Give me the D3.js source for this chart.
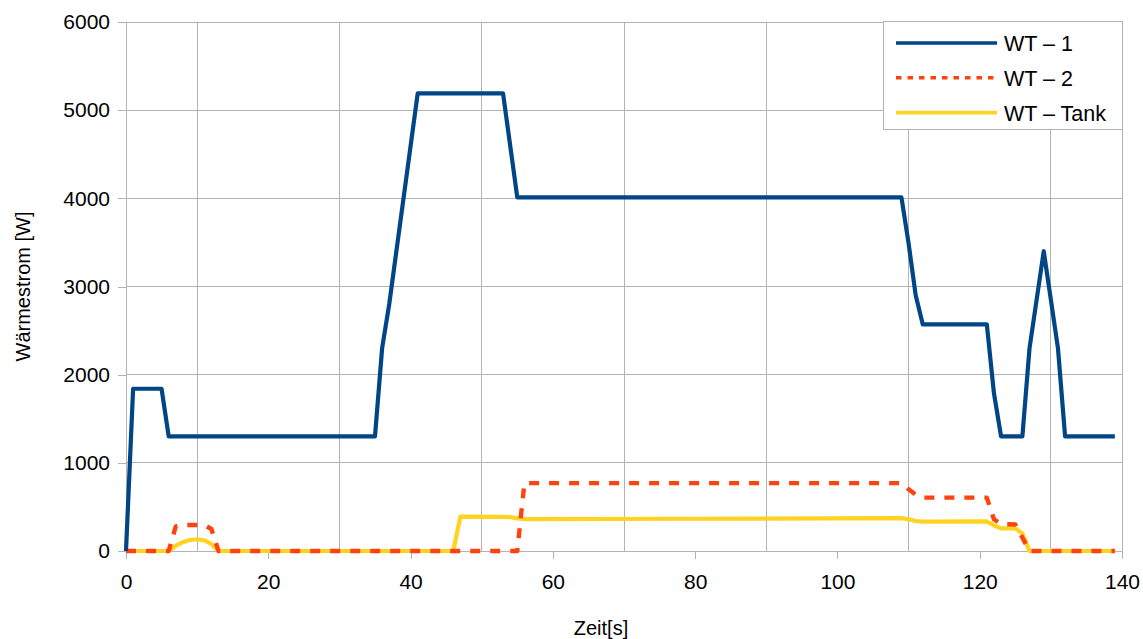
<!DOCTYPE html>
<html>
<head>
<meta charset="utf-8">
<script src="https://cdn.jsdelivr.net/npm/d3@7/dist/d3.min.js"></script>
<style>
  html, body { margin: 0; padding: 0; background: #ffffff; }
  svg { display: block; font-family: "Liberation Sans", Arial, sans-serif; }
</style>
</head>
<body>
<svg id="chart" width="1143" height="639"></svg>
<script>
// Heat flow of the three heat exchangers over time
const wt1Time   = [0, 1, 5, 6, 35, 36, 37, 41, 53, 55, 109, 110, 111, 112, 121, 122, 123, 126, 127, 129, 131, 132, 139];
const wt1Values = [0, 1840, 1840, 1300, 1300, 2300, 2800, 5190, 5190, 4010, 4010, 3490, 2900, 2570, 2570, 1790, 1300, 1300, 2300, 3400, 2300, 1300, 1300];

const wt2Time   = [0, 6, 7, 8, 11, 12, 13, 55, 56, 109, 110, 111, 112, 121, 122, 123, 125, 126, 127, 139];
const wt2Values = [0, 0, 280, 295, 295, 250, 0, 0, 770, 770, 700, 640, 605, 605, 360, 305, 300, 150, 0, 0];

const tankTime   = [0, 6, 7, 8, 9, 10, 11, 12, 13, 46, 47, 53, 54, 55, 56, 80, 109, 110, 111, 112, 121, 122, 123, 125, 126, 127, 139];
const tankValues = [0, 0, 60, 100, 125, 133, 120, 80, 0, 0, 390, 388, 385, 370, 362, 366, 372, 360, 340, 333, 335, 290, 257, 257, 200, 0, 0];

const seriesNames = ["WT – 1", "WT – 2", "WT – Tank"];
const xTickValues = [0, 20, 40, 60, 80, 100, 120, 140];
const xGridValues = [10, 30, 50, 70, 90, 110, 130, 140];
const yTickValues = [0, 1000, 2000, 3000, 4000, 5000, 6000];
const xTitle = "Zeit[s]";
const yTitle = "Wärmestrom [W]";

const svg = d3.select("#chart");
const margin = { left: 126, right: 21, top: 22, bottom: 88 };
const W = 1143, H = 639;
const gridColor = "#b3b3b3";

const x = d3.scaleLinear().domain([0, 140]).range([margin.left, W - margin.right]);
const y = d3.scaleLinear().domain([0, 6000]).range([H - margin.bottom, margin.top]);

// Grid
const grid = svg.append("g");
grid.selectAll("line.h").data(yTickValues.filter(v => v > 0)).join("line")
  .attr("x1", x(0)).attr("x2", x(140))
  .attr("y1", d => y(d)).attr("y2", d => y(d))
  .attr("stroke", gridColor).attr("stroke-width", 1).attr("shape-rendering", "crispEdges");
grid.selectAll("line.v").data(xGridValues).join("line")
  .attr("x1", d => x(d)).attr("x2", d => x(d))
  .attr("y1", y(6000)).attr("y2", y(0))
  .attr("stroke", gridColor).attr("stroke-width", 1).attr("shape-rendering", "crispEdges");

// Axes
const xAxis = d3.axisBottom(x).tickValues(xTickValues).tickSize(8).tickPadding(15).tickFormat(d3.format("d"));
const yAxis = d3.axisLeft(y).tickValues(yTickValues).tickSize(8).tickPadding(8).tickFormat(d3.format("d"));

const gx = svg.append("g").attr("transform", `translate(0,${y(0)})`).call(xAxis);
const gy = svg.append("g").attr("transform", `translate(${x(0)},0)`).call(yAxis);
[gx, gy].forEach(g => {
  g.select(".domain").attr("stroke", gridColor).attr("shape-rendering", "crispEdges");
  g.selectAll(".tick line").attr("stroke", gridColor).attr("shape-rendering", "crispEdges");
  g.selectAll(".tick text").attr("fill", "#000").style("font-size", "21px")
    .style("font-family", "'Liberation Sans', Arial, sans-serif");
});

// Axis titles
svg.append("text")
  .attr("x", 601).attr("y", 635)
  .attr("text-anchor", "middle").style("font-size", "20px").text(xTitle);
svg.append("text")
  .attr("transform", `translate(30,${(y(0) + y(6000)) / 2}) rotate(-90)`)
  .attr("text-anchor", "middle").style("font-size", "20px").text(yTitle);

// Series
const line = d3.line().x(d => x(d[0])).y(d => y(d[1]));
const zip = (t, v) => t.map((d, i) => [d, v[i]]);

const series = [
  { name: seriesNames[2], data: zip(tankTime, tankValues), color: "#ffd320", width: 4.2, dash: null },
  { name: seriesNames[1], data: zip(wt2Time, wt2Values), color: "#ff420e", width: 4.4, dash: "10,10" },
  { name: seriesNames[0], data: zip(wt1Time, wt1Values), color: "#004586", width: 4.2, dash: null }
];

svg.append("g").selectAll("path").data(series).join("path")
  .attr("d", d => line(d.data))
  .attr("fill", "none")
  .attr("stroke", d => d.color)
  .attr("stroke-width", d => d.width)
  .attr("stroke-linejoin", "round")
  .attr("stroke-dasharray", d => d.dash);

// Legend
const legend = svg.append("g");
legend.append("rect")
  .attr("x", 883).attr("y", 21.5).attr("width", x(140) - 883).attr("height", 108)
  .attr("fill", "#fff").attr("stroke", gridColor).attr("shape-rendering", "crispEdges");
const legendItems = [
  { name: seriesNames[0], color: "#004586", dash: null },
  { name: seriesNames[1], color: "#ff420e", dash: "5.5,6" },
  { name: seriesNames[2], color: "#ffd320", dash: null }
];
const li = legend.selectAll("g").data(legendItems).join("g")
  .attr("transform", (d, i) => `translate(0,${43 + i * 34.8})`);
li.append("line")
  .attr("x1", 896).attr("x2", 997).attr("y1", 0).attr("y2", 0)
  .attr("stroke", d => d.color).attr("stroke-width", 3.6)
  .attr("stroke-dasharray", d => d.dash);
li.append("text")
  .attr("x", 1004).attr("y", 8).style("font-size", "21.5px").text(d => d.name);
</script>
</body>
</html>
